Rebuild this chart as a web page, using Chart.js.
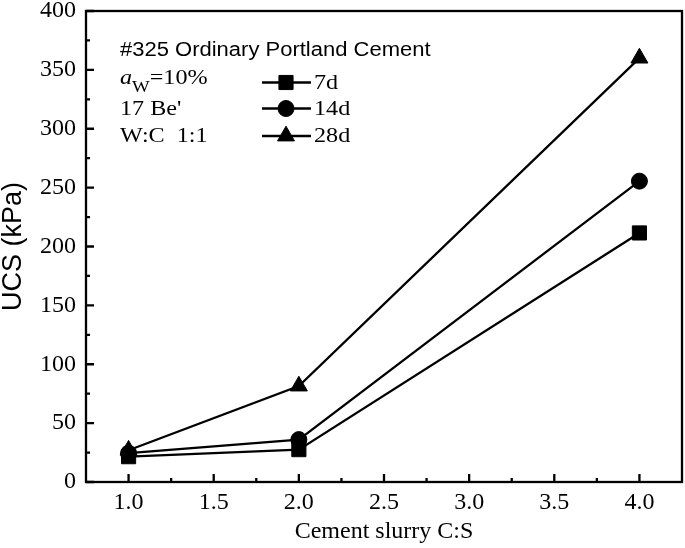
<!DOCTYPE html>
<html>
<head>
<meta charset="utf-8">
<script src="https://cdn.jsdelivr.net/npm/chart.js@4.4.1/dist/chart.umd.min.js"></script>
<style>
  html, body { margin: 0; padding: 0; background: #fff; }
  #wrap { width: 685px; height: 548px; position: relative; }
</style>
</head>
<body>
<div id="wrap"><canvas id="ucsChart"></canvas></div>
<script>
// values
const cementRatio = [1.0, 2.0, 4.0];
const ucs7d = [21.5, 27.5, 211.5];
const ucs14d = [24.5, 36, 255.5];
const ucs28d = [27, 81.5, 360];

const xTickValues = [1.0, 1.5, 2.0, 2.5, 3.0, 3.5, 4.0];
const xMinorTicks = [1.25, 1.75, 2.25, 2.75, 3.25, 3.75];
const yTickValues = [0, 50, 100, 150, 200, 250, 300, 350, 400];
const yMinorTicks = [25, 75, 125, 175, 225, 275, 325, 375];

const seriesNames = ['7d', '14d', '28d'];

const serif = '"Liberation Serif", "Times New Roman", serif';
const sans = '"Liberation Sans", Arial, sans-serif';

function toPoints(values) {
    return cementRatio.map((x, i) => ({ x: x, y: values[i] }));
}

function makeSet(label, values, style, radius) {
    return {
        label: label,
        data: toPoints(values),
        borderColor: '#000',
        backgroundColor: '#000',
        borderWidth: 2.3,
        pointStyle: style,
        pointRadius: radius,
        pointHoverRadius: radius,
        pointBackgroundColor: '#000',
        pointBorderColor: '#000',
        pointBorderWidth: 1,
        tension: 0,
    };
}

// text drawn a little wider, like the original figure's fonts
function wideText(ctx, txt, x, y, font, sx) {
    ctx.save();
    ctx.font = font;
    const w = ctx.measureText(txt).width * sx;
    ctx.translate(x, y);
    ctx.scale(sx, 1);
    ctx.fillText(txt, 0, 0);
    ctx.restore();
    return w;
}

// frame and inward ticks
const framePlugin = {
    id: 'frame',
    beforeDatasetsDraw(chart) {
        const ctx = chart.ctx;
        const a = chart.chartArea;
        const xs = chart.scales.x;
        const ys = chart.scales.y;
        ctx.save();
        ctx.strokeStyle = '#000';
        ctx.lineWidth = 2.3;
        ctx.strokeRect(a.left, a.top, a.right - a.left, a.bottom - a.top);
        ctx.beginPath();
        xTickValues.forEach(v => {
            const px = xs.getPixelForValue(v);
            ctx.moveTo(px, a.bottom);
            ctx.lineTo(px, a.bottom - 8);
        });
        xMinorTicks.forEach(v => {
            const px = xs.getPixelForValue(v);
            ctx.moveTo(px, a.bottom);
            ctx.lineTo(px, a.bottom - 4);
        });
        yTickValues.forEach(v => {
            const py = ys.getPixelForValue(v);
            ctx.moveTo(a.left, py);
            ctx.lineTo(a.left + 8, py);
        });
        yMinorTicks.forEach(v => {
            const py = ys.getPixelForValue(v);
            ctx.moveTo(a.left, py);
            ctx.lineTo(a.left + 4, py);
        });
        ctx.stroke();
        ctx.restore();
    }
};

// notes and legend inside the plot
const notesPlugin = {
    id: 'notes',
    afterDraw(chart) {
        const ctx = chart.ctx;
        ctx.save();
        ctx.fillStyle = '#000';
        ctx.textBaseline = 'alphabetic';
        ctx.textAlign = 'left';

        wideText(ctx, '#325 Ordinary Portland Cement', 120, 56, '20px ' + sans, 1.1);

        let x = 120;
        x += wideText(ctx, 'a', x, 84, 'italic 21px ' + serif, 1.15);
        x += wideText(ctx, 'W', x, 92, '17px ' + serif, 1.1);
        wideText(ctx, '=10%', x, 84, '21px ' + serif, 1.15);

        wideText(ctx, "17 Be'", 120, 115, '21px ' + serif, 1.15);
        wideText(ctx, 'W:C  1:1', 120, 142, '21px ' + serif, 1.15);

        const rows = [82.5, 108.5, 136];
        const baselines = [89, 115, 142];
        chart.data.datasets.forEach((ds, i) => {
            const y = rows[i];
            ctx.strokeStyle = '#000';
            ctx.lineWidth = 2.3;
            ctx.beginPath();
            ctx.moveTo(262, y);
            ctx.lineTo(311, y);
            ctx.stroke();
            ctx.fillStyle = '#000';
            ctx.lineWidth = 1;
            Chart.helpers.drawPoint(ctx, {
                pointStyle: ds.pointStyle,
                radius: ds.pointRadius,
                rotation: 0,
                borderWidth: 1,
            }, 286, y);
            wideText(ctx, seriesNames[i], 314, baselines[i], '21px ' + serif, 1.15);
        });
        ctx.restore();
    }
};

const ctx = document.getElementById('ucsChart').getContext('2d');

new Chart(ctx, {
    type: 'line',
    data: {
        datasets: [
            makeSet('7d', ucs7d, 'rect', 10),
            makeSet('14d', ucs14d, 'circle', 8),
            makeSet('28d', ucs28d, 'triangle', 9.8),
        ],
    },
    options: {
        responsive: true,
        maintainAspectRatio: false,
        animation: false,
        events: [],
        layout: { autoPadding: false, padding: { left: 0, right: 3, top: 11, bottom: 0 } },
        plugins: {
            legend: { display: false },
            tooltip: { enabled: false },
        },
        scales: {
            x: {
                type: 'linear',
                min: 0.75,
                max: 4.25,
                grid: { display: false, drawTicks: false },
                border: { display: false },
                afterBuildTicks(scale) {
                    scale.ticks = xTickValues.map(v => ({ value: v }));
                },
                afterFit(scale) {
                    scale.height = 66;
                    scale.paddingLeft = 0;
                    scale.paddingRight = 0;
                },
                ticks: {
                    color: '#000',
                    padding: 6,
                    maxRotation: 0,
                    autoSkip: false,
                    font: { family: serif, size: 24 },
                    callback: v => v.toFixed(1),
                },
                title: {
                    display: true,
                    text: 'Cement slurry C:S',
                    color: '#000',
                    padding: { top: 2, bottom: 2 },
                    font: { family: serif, size: 24 },
                },
            },
            y: {
                min: 0,
                max: 400,
                grid: { display: false, drawTicks: false },
                border: { display: false },
                afterBuildTicks(scale) {
                    scale.ticks = yTickValues.map(v => ({ value: v }));
                },
                afterFit(scale) {
                    scale.width = 86;
                    scale.paddingTop = 0;
                    scale.paddingBottom = 0;
                },
                ticks: {
                    color: '#000',
                    padding: 10,
                    autoSkip: false,
                    font: { family: serif, size: 24 },
                },
                title: {
                    display: true,
                    text: 'UCS (kPa)',
                    color: '#000',
                    padding: { top: 0, bottom: 0 },
                    font: { family: sans, size: 27, lineHeight: 1 },
                },
            },
        },
    },
    plugins: [framePlugin, notesPlugin],
});
</script>
</body>
</html>
